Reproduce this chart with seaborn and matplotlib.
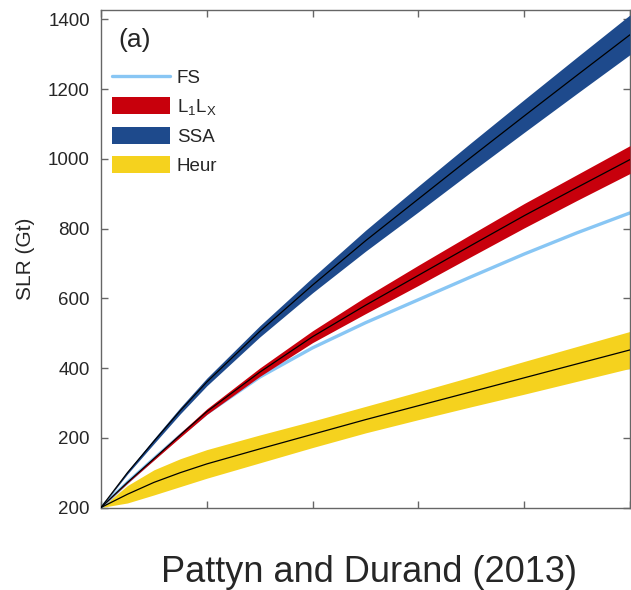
import matplotlib
matplotlib.use("Agg")
import matplotlib.pyplot as plt
from matplotlib.patches import Patch
from matplotlib.lines import Line2D
import pandas as pd
import seaborn as sns

# Time axis (unlabelled ticks) and modelled sea-level rise in Gt
t = [0, 0.25, 0.5, 0.75, 1, 1.5, 2, 2.5, 3, 3.5, 4, 4.5, 5]
fs = [0, 72, 140, 207, 270, 374, 458, 530, 596, 662, 727, 788, 845]
l1lx = [0, 72, 140, 208, 275, 388, 490, 580, 666, 752, 837, 918, 998]
l1lx_spread = [0, 2, 4, 6, 8, 12, 17, 24, 29, 32, 35, 37, 40]
ssa = [0, 100, 190, 278, 360, 505, 638, 765, 885, 1005, 1123, 1240, 1356]
ssa_spread = [0, 4, 7, 9, 11, 16, 22, 30, 37, 42, 47, 52, 57]
heur = [0, 38, 72, 100, 125, 168, 210, 252, 292, 332, 372, 412, 452]
heur_spread = [0, 25, 36, 40, 41, 40, 38, 38, 40, 43, 47, 50, 53]

y_ticks = [0, 200, 400, 600, 800, 1000, 1200, 1400]
y_tick_labels = ["200", "200", "400", "600", "800", "1000", "1200", "1400"]
x_ticks = [0, 1, 2, 3, 4, 5]

colors = {
    "FS": "#88c6f4",
    "L1LX": "#c8000c",
    "SSA": "#1e4a8c",
    "Heur": "#f5d21e",
}

sns.set_style("ticks")
plt.rcParams["font.family"] = ["Liberation Sans", "DejaVu Sans"]
plt.rcParams["mathtext.fontset"] = "custom"
plt.rcParams["mathtext.rm"] = "Liberation Sans"
plt.rcParams["mathtext.default"] = "regular"

W, H = 631, 590
fig = plt.figure(figsize=(W / 100, H / 100), dpi=100)
ax = fig.add_axes([101 / W, 1 - 507.5 / H, 529 / W, 497.5 / H])

# Long-form table of ensemble means with their spread
rows = []
for name, mean, spread in [("Heur", heur, heur_spread),
                           ("SSA", ssa, ssa_spread),
                           ("L1LX", l1lx, l1lx_spread)]:
    for ti, m, s in zip(t, mean, spread):
        rows.append({"model": name, "t": ti, "slr": m,
                     "lo": m - s, "hi": m + s})
df = pd.DataFrame(rows)

# Full-Stokes reference line (sits under the L1LX band)
sns.lineplot(x=t, y=fs, color=colors["FS"], lw=2.4, ax=ax, zorder=2)

# Spread bands
for name, z in [("Heur", 1), ("SSA", 3), ("L1LX", 3)]:
    d = df[df["model"] == name]
    ax.fill_between(d["t"], d["lo"], d["hi"], color=colors[name],
                    lw=0, zorder=z)

# Black ensemble-mean lines
sns.lineplot(data=df, x="t", y="slr", units="model", estimator=None,
             color="black", lw=0.9, ax=ax, zorder=5)

ax.set_xlim(0, 5)
ax.set_ylim(0, 1427)
ax.set_xticks(x_ticks)
ax.set_xticklabels([])
ax.set_yticks(y_ticks)
ax.set_yticklabels(y_tick_labels, fontsize=13.5)
ax.set_xlabel("")
ax.set_ylabel("SLR (Gt)", fontsize=15)
ax.yaxis.set_label_coords(-0.124, 0.5)

for sp in ax.spines.values():
    sp.set_visible(True)
    sp.set_color("#666666")
    sp.set_linewidth(1.0)
ax.tick_params(direction="in", top=True, right=True, length=5, width=1.0,
               color="#666666", pad=8)
ax.tick_params(axis="x", labelbottom=False)

ax.text(0.032, 0.9266, "(a)", transform=ax.transAxes, fontsize=19,
        va="baseline", ha="left")

handles = [
    Line2D([], [], color=colors["FS"], lw=2.4),
    Patch(facecolor=colors["L1LX"], edgecolor="none"),
    Patch(facecolor=colors["SSA"], edgecolor="none"),
    Patch(facecolor=colors["Heur"], edgecolor="none"),
]
labels = ["FS", "L$_1$L$_X$", "SSA", "Heur"]
ax.legend(handles, labels, loc="upper left", bbox_to_anchor=(0.0208, 0.883),
          frameon=False, borderpad=0, borderaxespad=0, handlelength=3.1,
          handleheight=1.04, handletextpad=0.36, labelspacing=0.53,
          fontsize=13.5)

fig.text(0.584, 1 - 582 / H, "Pattyn and Durand (2013)", ha="center",
         va="baseline", fontsize=26)

fig.savefig("out.png", dpi=100)
